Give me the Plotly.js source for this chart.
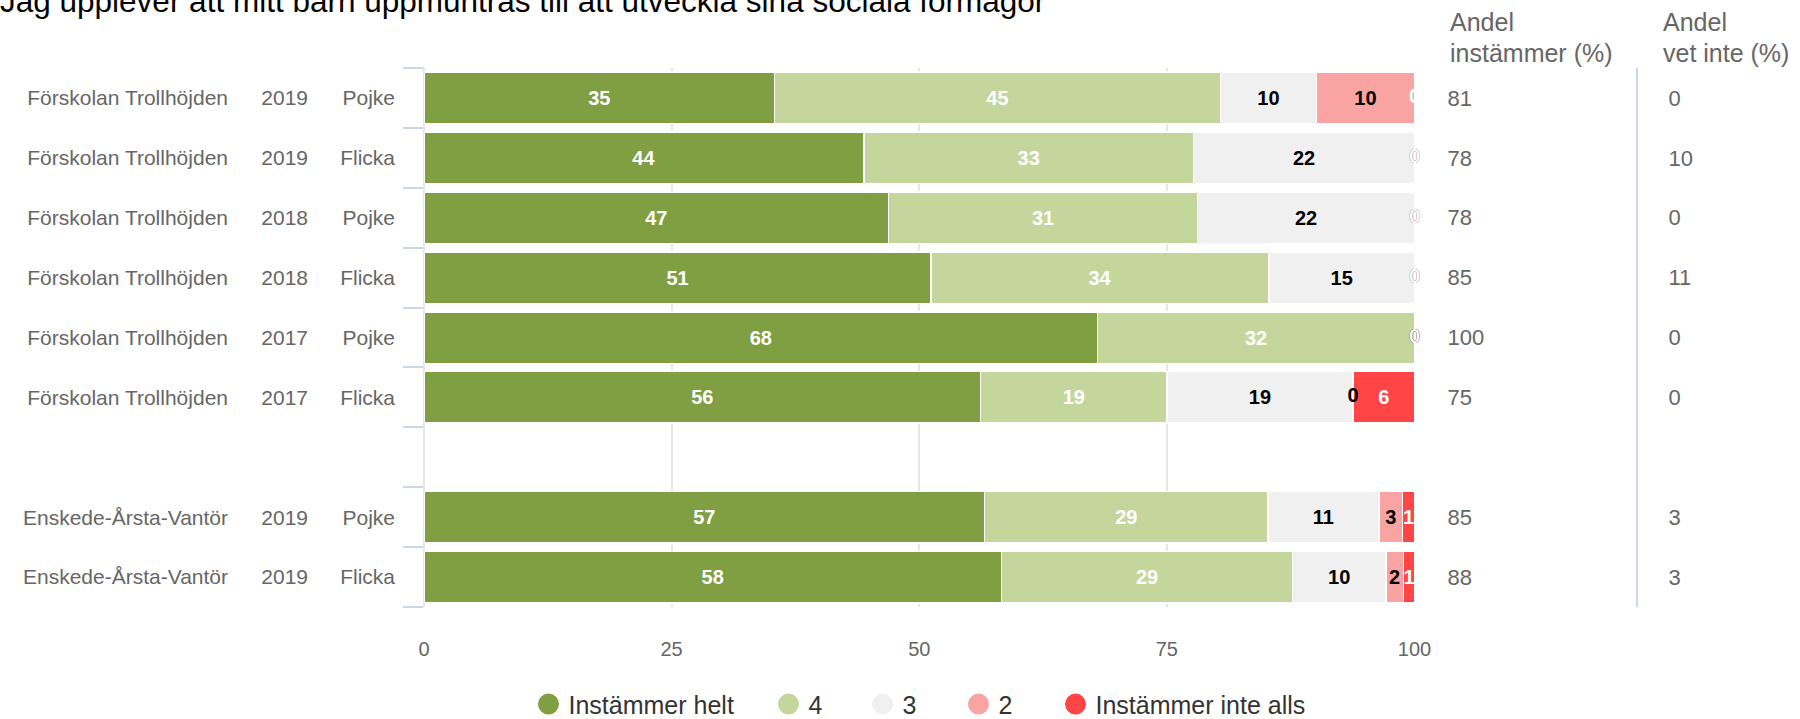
<!DOCTYPE html>
<html>
<head>
<meta charset="utf-8">
<script src="https://cdn.plot.ly/plotly-3.0.1.min.js"></script>
<style>
html, body { margin: 0; padding: 0; background: #ffffff; }
#chart { width: 1800px; height: 719px; }
</style>
</head>
<body>
<div id="chart"></div>
<script>
// ---------- data ----------
const chartTitle = "Jag upplever att mitt barn uppmuntras till att utveckla sina sociala förmågor";
const units   = ["Förskolan Trollhöjden","Förskolan Trollhöjden","Förskolan Trollhöjden","Förskolan Trollhöjden","Förskolan Trollhöjden","Förskolan Trollhöjden","","Enskede-Årsta-Vantör","Enskede-Årsta-Vantör"];
const years   = ["2019","2019","2018","2018","2017","2017","","2019","2019"];
const genders = ["Pojke","Flicka","Pojke","Flicka","Pojke","Flicka","","Pojke","Flicka"];

const seriesNames = ["Instämmer helt","4","3","2","Instämmer inte alls"];
// bar lengths (share in %)
const valHelt  = [35.4, 44.4, 46.9, 51.2, 68.0, 56.2, null, 56.6, 58.3];
const val4     = [45.0, 33.3, 31.2, 34.1, 32.0, 18.8, null, 28.6, 29.4];
const val3     = [ 9.7, 22.3, 21.9, 14.7,  0.0, 18.8, null, 11.2,  9.4];
const val2     = [ 9.9,  0.0,  0.0,  0.0,  0.0,  0.0, null,  2.4,  1.8];
const valInte  = [ 0.0,  0.0,  0.0,  0.0,  0.0,  6.2, null,  1.2,  1.1];
// data labels as printed in the bars
const lblHelt  = [35, 44, 47, 51, 68, 56, null, 57, 58];
const lbl4     = [45, 33, 31, 34, 32, 19, null, 29, 29];
const lbl3     = [10, 22, 22, 15,  0, 19, null, 11, 10];
const lbl2     = [10,  0,  0,  0,  0,  0, null,  3,  2];
const lblInte  = [ 0,  0,  0,  0,  0,  6, null,  1,  1];

const andelInstammer = [81, 78, 78, 85, 100, 75, null, 85, 88];
const andelVetInte   = [0, 10, 0, 11, 0, 0, null, 3, 3];
const colHeaders = [["Andel", "instämmer (%)"], ["Andel", "vet inte (%)"]];
const xTicks = [0, 25, 50, 75, 100];

// ---------- styling ----------
const FONT = "Liberation Sans, Arial, Helvetica, sans-serif";
const W = 1800;
const colors = ["#809e42", "#c5d69c", "#f0f0f0", "#faa3a3", "#ff4545"];
const labelColors = ["#ffffff", "#ffffff", "#000000", "#000000", "#ffffff"];
const values = [valHelt, val4, val3, val2, valInte];
const labels = [lblHelt, lbl4, lbl3, lbl2, lblInte];
const legendMarkerX = [545, 785, 879, 975, 1072];

const rowPos = units.map((_, i) => i);
const boundaries = units.map((_, i) => i - 0.5).concat([units.length - 0.5]);
const yRange = [units.length - 0.5, -0.5];

const traces = [];
// stacked bars
values.forEach((vals, k) => {
  traces.push({
    type: "bar", orientation: "h", name: seriesNames[k],
    x: vals, y: rowPos,
    marker: { color: colors[k], line: { color: "#ffffff", width: 1.5 } },
    text: labels[k].map((l, i) => (vals[i] > 0 ? String(l) : "")),
    textposition: "inside", insidetextanchor: "middle", textangle: 0,
    constraintext: "none",
    textfont: { family: FONT, size: 20, color: labelColors[k], weight: "bold" },
    showlegend: false, hoverinfo: "skip"
  });
});
// zero-value labels (placed at the stack position of the empty segment)
values.forEach((vals, k) => {
  const xs = [], ys = [], ts = [];
  vals.forEach((v, i) => {
    if (v === 0) {
      let start = 0;
      for (let j = 0; j < k; j++) start += values[j][i] || 0;
      xs.push(Math.round(start * 100) / 100); ys.push(i); ts.push(String(labels[k][i]));
    }
  });
  if (xs.length) {
    traces.push({
      type: "scatter", mode: "text", x: xs, y: ys, text: ts,
      textposition: "middle center", cliponaxis: false,
      textfont: { family: FONT, size: 20, color: labelColors[k], weight: "bold" },
      showlegend: false, hoverinfo: "skip"
    });
  }
});
// legend entries with round symbols, one small legend per entry
seriesNames.forEach((n, k) => {
  traces.push({
    type: "scatter", mode: "markers", x: [null], y: [null], name: n,
    legend: k === 0 ? "legend" : "legend" + (k + 1),
    marker: { symbol: "circle", size: 16, color: colors[k], line: { color: colors[k], width: 6 } },
    hoverinfo: "skip"
  });
});
// empty traces so the extra label axes are drawn
["y2", "y3", "y4", "y5", "y6"].forEach(ax => {
  traces.push({ type: "scatter", mode: "markers", x: [null], y: [null], yaxis: ax,
    showlegend: false, hoverinfo: "skip" });
});

const leftFont = { family: FONT, size: 21, color: "#666666" };
const rightFont = { family: FONT, size: 22, color: "#666666" };
const yBase = { range: yRange, tickmode: "array", tickvals: rowPos, showgrid: false,
  zeroline: false, showline: false, ticks: "", fixedrange: true };

const toText = arr => arr.map(v => (v === null || v === undefined ? "" : String(v)));

const layout = {
  width: 1800, height: 719,
  margin: { l: 0, r: 0, t: 67.5, b: 111.5, pad: 0, autoexpand: false },
  paper_bgcolor: "#ffffff", plot_bgcolor: "#ffffff",
  barmode: "stack", bargap: 0.14,
  hovermode: false,
  font: { family: FONT, color: "#666666" },
  title: {
    text: chartTitle,
    font: { family: FONT, size: 31.5, color: "#000000" },
    xref: "container", x: 0, xanchor: "left",
    yref: "container", y: 1 - 12 / 719, yanchor: "bottom",
    pad: { t: 0, b: 0, l: 0, r: 0 }
  },
  xaxis: {
    domain: [424 / W, 1414.5 / W], range: [0, 100.001],
    tickmode: "array", tickvals: xTicks, ticktext: xTicks.map(String),
    showgrid: true, gridcolor: "#e6e6e6", gridwidth: 2,
    zeroline: true, zerolinecolor: "#e6e6e6", zerolinewidth: 2,
    showline: false, ticks: "", tickfont: { family: FONT, size: 20, color: "#666666" },
    ticklabelstandoff: 28, fixedrange: true
  },
  yaxis: Object.assign({}, yBase, {
    ticktext: toText(genders), tickfont: leftFont, ticklabelstandoff: 28
  }),
  yaxis2: Object.assign({}, yBase, {
    overlaying: "y", anchor: "free", position: 308 / W, side: "left",
    ticktext: toText(years), tickfont: leftFont
  }),
  yaxis3: Object.assign({}, yBase, {
    overlaying: "y", anchor: "free", position: 228 / W, side: "left",
    ticktext: toText(units), tickfont: leftFont
  }),
  yaxis4: Object.assign({}, yBase, {
    overlaying: "y", anchor: "free", position: 1414.5 / W, side: "right",
    ticktext: toText(andelInstammer), tickfont: rightFont, ticklabelstandoff: 32
  }),
  yaxis5: Object.assign({}, yBase, {
    overlaying: "y", anchor: "x", side: "left",
    tickvals: boundaries, ticktext: boundaries.map(() => ""),
    ticks: "outside", ticklen: 20, tickwidth: 2, tickcolor: "#ccd6eb", showticklabels: false
  }),
  yaxis6: Object.assign({}, yBase, {
    overlaying: "y", anchor: "free", position: 1637 / W, side: "right",
    showline: true, linecolor: "#ccd6eb", linewidth: 2,
    ticktext: toText(andelVetInte), tickfont: rightFont, ticklabelstandoff: 26
  }),
  annotations: []
};

// legends
legendMarkerX.forEach((mx, k) => {
  const key = k === 0 ? "legend" : "legend" + (k + 1);
  layout[key] = {
    orientation: "h", xref: "paper", x: (mx - 16.5) / W, xanchor: "left",
    yref: "paper", y: (607.5 - 705) / 540, yanchor: "middle",
    font: { family: FONT, size: 25, color: "#333333" },
    bgcolor: "rgba(0,0,0,0)", borderwidth: 0
  };
});

const headerX = [1449 / W, 1662 / W];
colHeaders.forEach((lines, c) => {
  lines.forEach((t, r) => {
    layout.annotations.push({
      xref: "paper", yref: "paper", x: headerX[c], xanchor: "left",
      y: (607.5 - (r === 0 ? 21 : 52)) / 540, yanchor: "middle",
      text: t, showarrow: false, borderpad: 0,
      font: { family: FONT, size: 25, color: "#666666" }
    });
  });
});

Plotly.newPlot("chart", traces, layout, { displayModeBar: false, staticPlot: true });
</script>
</body>
</html>
